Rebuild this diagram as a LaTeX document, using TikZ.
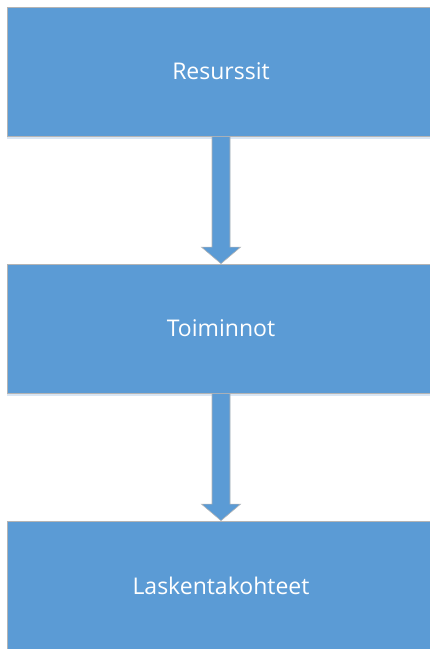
\documentclass[tikz,border=0pt]{standalone}
\usepackage{fontspec}
\setmainfont{Open Sans}
\usetikzlibrary{calc}
\definecolor{boxblue}{HTML}{5B9BD5}
\definecolor{edgegray}{HTML}{B4B4B4}
\definecolor{glow}{HTML}{D9E6F4}
\begin{document}
\begin{tikzpicture}[x=1pt,y=-1pt,
  block/.style={fill=boxblue,draw=edgegray,line width=0.8pt,minimum width=428pt,minimum height=129pt,inner sep=0pt,text=white,font=\fontsize{23}{27}\selectfont},
  arrowfill/.style={fill=boxblue,draw=edgegray,line width=0.6pt}]
\useasboundingbox (0,0) rectangle (430,649);
\clip (0,0) rectangle (430,649);
\fill[white] (0,0) rectangle (430,649);
\node[block] (a) at (221,71.5) {Resurssit};
\node[block] (b) at (221,328.5) {Toiminnot};
\node[block] (c) at (221,585.5) {Laskentakohteet};
\foreach \n in {a,b}{
  \fill[glow] ($(\n.south west)+(0,0.5)$) rectangle ($(\n.south east)+(0,3)$);
}
\foreach \s/\t in {a/b,b/c}{
  \draw[arrowfill] ($(\s.south)+(-9,0.5)$) -- ($(\t.north)+(-9,-16.5)$) -- ($(\t.north)+(-19.5,-16.5)$)
    -- (\t.north) -- ($(\t.north)+(19.5,-16.5)$) -- ($(\t.north)+(9,-16.5)$) -- ($(\s.south)+(9,0.5)$);
}
\end{tikzpicture}
\end{document}
